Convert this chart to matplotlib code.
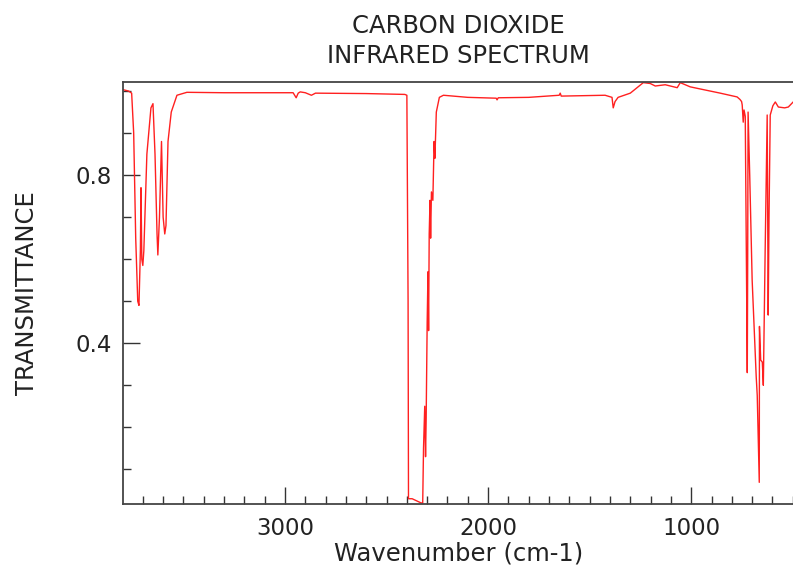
import matplotlib
matplotlib.use("Agg")
import matplotlib.pyplot as plt
from matplotlib.ticker import MultipleLocator, FixedLocator

wavenumber = [
    3795, 3770, 3755, 3745, 3735, 3725, 3719, 3712, 3709, 3705,
    3700, 3695, 3680, 3660, 3650, 3640, 3630, 3626, 3618, 3608,
    3600, 3592, 3586, 3576, 3560, 3532, 3483, 3300, 2960, 2945,
    2935, 2925, 2900, 2870, 2850, 2600, 2410, 2400, 2394, 2392,
    2374, 2330, 2322, 2318, 2312, 2308, 2305, 2300, 2296, 2293,
    2290, 2286, 2283, 2279, 2272, 2266, 2262, 2255, 2240, 2220,
    2100, 1960, 1956, 1950, 1800, 1650, 1645, 1640, 1424, 1390,
    1384, 1375, 1360, 1300, 1236, 1202, 1177, 1128, 1069, 1054,
    1005, 956, 857, 774, 760, 752, 749, 744, 740, 734,
    724, 722, 720, 712, 700, 680, 675, 665, 664, 658,
    650, 645, 636, 626, 621, 617, 611, 598, 586, 571,
    540, 522, 498,
]
transmittance = [
    1.003, 1.000, 0.995, 0.90, 0.65, 0.50, 0.49, 0.62, 0.77, 0.60,
    0.585, 0.62, 0.85, 0.96, 0.97, 0.85, 0.66, 0.61, 0.70, 0.88,
    0.70, 0.66, 0.68, 0.88, 0.95, 0.99, 0.997, 0.996, 0.996, 0.984,
    0.995, 0.998, 0.996, 0.990, 0.995, 0.994, 0.992, 0.990, 0.50, 0.03,
    0.03, 0.02, 0.02, 0.15, 0.25, 0.13, 0.22, 0.45, 0.57, 0.43,
    0.66, 0.74, 0.65, 0.76, 0.74, 0.88, 0.84, 0.95, 0.985, 0.99,
    0.985, 0.983, 0.979, 0.984, 0.985, 0.990, 0.995, 0.988, 0.990, 0.985,
    0.960, 0.975, 0.985, 0.995, 1.020, 1.018, 1.012, 1.015, 1.008, 1.020,
    1.010, 1.005, 0.995, 0.986, 0.980, 0.975, 0.967, 0.926, 0.955, 0.94,
    0.33, 0.60, 0.95, 0.80, 0.55, 0.32, 0.276, 0.069, 0.44, 0.36,
    0.355, 0.30, 0.62, 0.943, 0.467, 0.70, 0.943, 0.965, 0.974, 0.962,
    0.960, 0.962, 0.974,
]

xlim = (3798, 495)
ylim = (0.017, 1.021)
x_major = [3000, 2000, 1000]
y_major = [0.4, 0.8]

fig = plt.figure(figsize=(7.93, 5.71), dpi=100)
ax = fig.add_axes([0.155, 0.117, 0.846, 0.739])

ax.plot(wavenumber, transmittance, color="#ff2020", linewidth=1.0)

ax.set_xlim(*xlim)
ax.set_ylim(*ylim)
ax.xaxis.set_major_locator(FixedLocator(x_major))
ax.xaxis.set_minor_locator(MultipleLocator(100))
ax.yaxis.set_major_locator(FixedLocator(y_major))
ax.yaxis.set_minor_locator(MultipleLocator(0.1))
ax.tick_params(which="both", direction="in", colors="#333333",
               labelcolor="#222222", labelsize=16.5, width=1.0)
ax.tick_params(which="major", length=12)
ax.tick_params(which="minor", length=6)
ax.tick_params(axis="x", pad=9)
ax.tick_params(axis="y", pad=8)
ax.tick_params(top=False, right=False, which="both")

for side in ["left", "bottom", "top", "right"]:
    ax.spines[side].set_color("#444444")
    ax.spines[side].set_linewidth(1.3)

ax.set_xlabel("Wavenumber (cm-1)", fontsize=17.5, color="#222222", labelpad=1)
ax.set_ylabel("TRANSMITTANCE", fontsize=17.5, color="#222222", labelpad=26)
ax.set_title("CARBON DIOXIDE\nINFRARED SPECTRUM", fontsize=17.5,
             color="#222222", pad=14, linespacing=1.3)

fig.savefig("out.png", dpi=100)
